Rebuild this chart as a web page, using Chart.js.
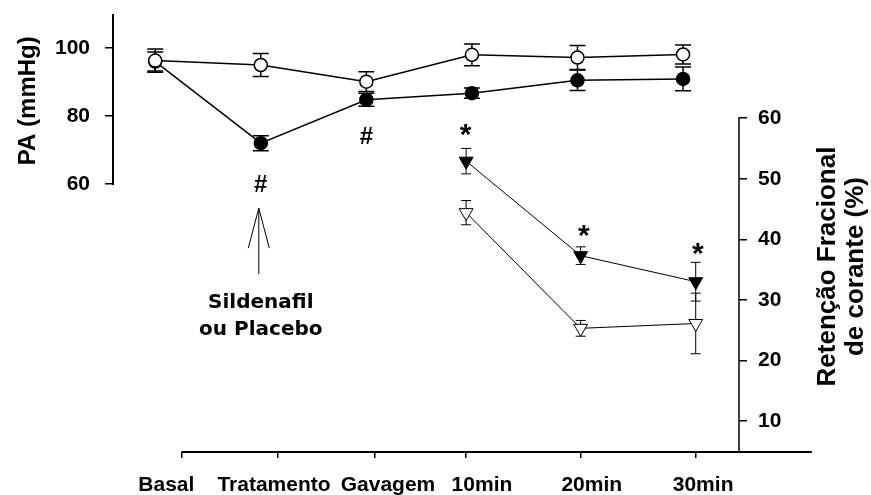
<!DOCTYPE html>
<html>
<head>
<meta charset="utf-8">
<script src="https://cdn.jsdelivr.net/npm/chart.js@4.4.1/dist/chart.umd.min.js"></script>
<style>
html, body { margin: 0; padding: 0; background: #fff; }
canvas { display: block; }
</style>
</head>
<body>
<canvas id="c" width="871" height="495" style="width:871px;height:495px"></canvas>
<script>
// ---- data ----
const categories = ['Basal', 'Tratamento', 'Gavagem', '10min', '20min', '30min'];
const categoryX = [0, 1, 2, 3, 4, 5];
const axisTickX = [0.25, 1.165, 2.075, 2.945, 4.03, 5.12];
const labelX = [0.105, 1.125, 2.205, 3.095, 4.135, 5.19];
const timeX = [2.945, 4.03, 5.12];

const paPlacebo = [96.3, 95.0, 90.1, 98.0, 97.2, 98.1];
const paPlaceboErr = [3.4, 3.4, 2.9, 3.2, 3.5, 2.8];
const paSildenafil = [96.0, 72.0, 84.8, 86.7, 90.5, 90.9];
const paSildenafilErr = [2.8, 2.2, 1.9, 1.5, 3.0, 3.5];

const retPlacebo = [44.4, 25.3, 26.1];
const retPlaceboErr = [2.0, 1.3, 5.0];
const retSildenafil = [52.9, 37.3, 33.0];
const retSildenafilErr = [2.1, 1.45, 3.2];

const paTicks = [60, 80, 100];
const retTicks = [10, 20, 30, 40, 50, 60];

const sigMarks = [
  { text: '#', x: 1, y: 60.3, axis: 'y' },
  { text: '#', x: 2, y: 74.4, axis: 'y' },
  { text: '*', x: 2.94, y: 58.5, axis: 'y2' },
  { text: '*', x: 4.06, y: 41.8, axis: 'y2' },
  { text: '*', x: 5.14, y: 38.9, axis: 'y2' }
];
const arrowX = 1;
const arrowTip = 52.9;
const arrowTail = 33.5;
const noteLines = ['Sildenafil', 'ou Placebo'];
const noteY = [25.0, 17.1];
const xAxisEnd = 6.22;

const leftTitle = 'PA (mmHg)';
const rightTitle = ['Retenção Fracional', 'de corante (%)'];

// ---- chart ----
const ARIAL = '"Liberation Sans", Arial, Helvetica, sans-serif';
const TAHOMA = '"DejaVu Sans", Verdana, sans-serif';
Chart.defaults.color = '#000';

const pts = (xs, ys) => ys.map((v, i) => ({ x: xs[i], y: v }));
const noPad = s => { s.paddingTop = 0; s.paddingBottom = 0; s.paddingLeft = 0; s.paddingRight = 0; };

const overlay = {
  id: 'overlay',
  beforeDatasetsDraw(chart) {
    const { ctx, chartArea, scales } = chart;
    ctx.save();
    ctx.strokeStyle = '#000';
    // axis lines
    ctx.lineWidth = 2;
    ctx.beginPath();
    ctx.moveTo(chartArea.left, scales.y.getPixelForValue(scales.y.max));
    ctx.lineTo(chartArea.left, scales.y.getPixelForValue(paTicks[0]) + 1);
    ctx.stroke();
    ctx.lineWidth = 1.5;
    ctx.beginPath();
    ctx.moveTo(chartArea.right, scales.y2.getPixelForValue(retTicks[retTicks.length - 1]) - 1);
    ctx.lineTo(chartArea.right, chartArea.bottom);
    ctx.stroke();
    ctx.lineWidth = 2;
    ctx.beginPath();
    ctx.moveTo(scales.x.getPixelForValue(axisTickX[0]), chartArea.bottom);
    ctx.lineTo(scales.x.getPixelForValue(xAxisEnd), chartArea.bottom);
    ctx.stroke();
    // error bars
    chart.data.datasets.forEach((ds, i) => {
      const meta = chart.getDatasetMeta(i);
      const ys = scales[ds.yAxisID];
      ctx.lineWidth = ds.errWidth;
      ds.errors.forEach((e, j) => {
        const el = meta.data[j];
        const v = ds.data[j].y;
        const t = ys.getPixelForValue(v + e);
        const b = ys.getPixelForValue(v - e);
        const h = ds.capHalf;
        ctx.beginPath();
        ctx.moveTo(el.x, t); ctx.lineTo(el.x, b);
        ctx.moveTo(el.x - h, t); ctx.lineTo(el.x + h, t);
        ctx.moveTo(el.x - h, b); ctx.lineTo(el.x + h, b);
        ctx.stroke();
      });
    });
    ctx.restore();
  },
  afterDatasetsDraw(chart) {
    const { ctx, scales } = chart;
    ctx.save();
    ctx.fillStyle = '#000';
    ctx.strokeStyle = '#000';
    ctx.textAlign = 'center';
    ctx.textBaseline = 'alphabetic';
    // significance marks
    sigMarks.forEach(m => {
      const size = m.text === '*' ? 30 : 24;
      const k = m.text === '*' ? 0.56 : 0.36;
      ctx.font = 'bold ' + size + 'px ' + ARIAL;
      const px = scales.x.getPixelForValue(m.x);
      const py = scales[m.axis].getPixelForValue(m.y);
      ctx.fillText(m.text, px, py + k * size);
    });
    // arrow
    const ax = scales.x.getPixelForValue(arrowX) - 2;
    const tip = scales.y.getPixelForValue(arrowTip);
    const tail = scales.y.getPixelForValue(arrowTail);
    ctx.lineWidth = 1;
    ctx.beginPath();
    ctx.moveTo(ax, tip); ctx.lineTo(ax, tail);
    ctx.moveTo(ax - 10.5, tip + 40); ctx.lineTo(ax, tip); ctx.lineTo(ax + 10.5, tip + 40);
    ctx.stroke();
    // note text
    ctx.font = 'bold 20px ' + TAHOMA;
    ctx.textBaseline = 'middle';
    noteLines.forEach((line, i) => {
      ctx.fillText(line, ax + 2, scales.y.getPixelForValue(noteY[i]));
    });
    // axis titles
    ctx.textBaseline = 'alphabetic';
    ctx.font = 'bold 24px ' + ARIAL;
    ctx.save();
    ctx.translate(scales.y.left + 35, scales.y.getPixelForValue(84.5));
    ctx.rotate(-Math.PI / 2);
    ctx.fillText(leftTitle, 0, 0);
    ctx.restore();
    ctx.font = 'bold 26px ' + ARIAL;
    rightTitle.forEach((line, i) => {
      ctx.save();
      ctx.translate(scales.y2.left + 96 + i * 28, scales.y2.getPixelForValue(35.5));
      ctx.rotate(-Math.PI / 2);
      ctx.fillText(line, 0, 0);
      ctx.restore();
    });
    ctx.restore();
  }
};

new Chart(document.getElementById('c'), {
  type: 'line',
  data: {
    datasets: [
      {
        label: 'PA Placebo', data: pts(categoryX, paPlacebo), errors: paPlaceboErr,
        xAxisID: 'x', yAxisID: 'y', borderColor: '#000', borderWidth: 1.5,
        pointStyle: 'circle', pointRadius: 6.5, pointBorderWidth: 1.5,
        pointBackgroundColor: '#fff', pointBorderColor: '#000',
        errWidth: 1.5, capHalf: 8
      },
      {
        label: 'PA Sildenafil', data: pts(categoryX, paSildenafil), errors: paSildenafilErr,
        xAxisID: 'x', yAxisID: 'y', borderColor: '#000', borderWidth: 1.5,
        pointStyle: 'circle', pointRadius: 6.5, pointBorderWidth: 1.5,
        pointBackgroundColor: '#000', pointBorderColor: '#000',
        errWidth: 1.5, capHalf: 8
      },
      {
        label: 'Retenção Sildenafil', data: pts(timeX, retSildenafil), errors: retSildenafilErr,
        xAxisID: 'x', yAxisID: 'y2', borderColor: '#000', borderWidth: 1,
        pointStyle: 'triangle', pointRotation: 180, pointRadius: 8, pointBorderWidth: 1,
        pointBackgroundColor: '#000', pointBorderColor: '#000',
        errWidth: 1, capHalf: 5
      },
      {
        label: 'Retenção Placebo', data: pts(timeX, retPlacebo), errors: retPlaceboErr,
        xAxisID: 'x', yAxisID: 'y2', borderColor: '#000', borderWidth: 1,
        pointStyle: 'triangle', pointRotation: 180, pointRadius: 8, pointBorderWidth: 1,
        pointBackgroundColor: '#fff', pointBorderColor: '#000',
        errWidth: 1, capHalf: 5
      }
    ]
  },
  options: {
    responsive: false,
    animation: false,
    events: [],
    layout: { padding: { top: 14, left: 0, right: 0, bottom: 0 } },
    plugins: { legend: { display: false }, tooltip: { enabled: false } },
    elements: { line: { tension: 0, fill: false } },
    scales: {
      x: {
        type: 'linear', position: 'bottom', min: -0.4, max: 5.53,
        afterBuildTicks: s => { s.ticks = axisTickX.map(v => ({ value: v })); },
        afterFit: s => { s.height = 8; noPad(s); },
        border: { display: false },
        grid: { display: true, drawOnChartArea: false, drawTicks: true, tickLength: 6, color: '#000', lineWidth: 1.5 },
        ticks: { display: false }
      },
      xl: {
        type: 'linear', position: 'bottom', min: -0.4, max: 5.53,
        afterBuildTicks: s => { s.ticks = labelX.map(v => ({ value: v })); },
        afterFit: s => { s.height = 35; noPad(s); },
        border: { display: false },
        grid: { display: false, drawTicks: false },
        ticks: {
          padding: 13, maxRotation: 0, autoSkip: false,
          font: { family: ARIAL, size: 21, weight: 'bold' },
          callback: (v, i) => categories[i]
        }
      },
      y: {
        type: 'linear', position: 'left', min: -18.82, max: 110,
        afterBuildTicks: s => { s.ticks = paTicks.map(v => ({ value: v })); },
        afterFit: s => { s.width = 113; noPad(s); },
        border: { display: false },
        grid: { display: true, drawOnChartArea: false, drawTicks: true, tickLength: 8, color: '#000', lineWidth: 1.5 },
        ticks: { padding: 15, font: { family: ARIAL, size: 21, weight: 'bold' } }
      },
      y2: {
        type: 'linear', position: 'right', min: 4.88, max: 77.2,
        afterBuildTicks: s => { s.ticks = retTicks.map(v => ({ value: v })); },
        afterFit: s => { s.width = 132; noPad(s); },
        border: { display: false },
        grid: { display: true, drawOnChartArea: false, drawTicks: true, tickLength: 8, color: '#000', lineWidth: 1.5 },
        ticks: { padding: 11, font: { family: ARIAL, size: 21, weight: 'bold' } }
      }
    }
  },
  plugins: [overlay]
});
</script>
</body>
</html>
